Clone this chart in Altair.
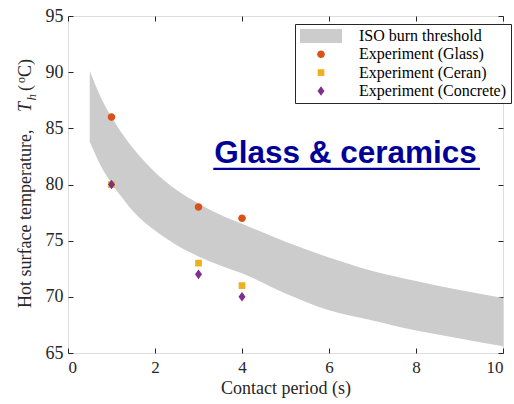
import altair as alt
import pandas as pd

# ---------------- data ----------------
band_t = [0.5, 0.75, 1.0, 1.25, 1.5, 2.0, 2.5, 3.0, 3.5, 4.0, 5.0, 6.0, 7.0, 8.0, 9.0, 10.0]
band_upper = [90.1, 87.8, 86.0, 84.5, 83.2, 81.1, 79.5, 78.3, 77.3, 76.5, 74.9, 73.5, 72.3, 71.4, 70.6, 69.9]
band_lower = [83.8, 81.7, 80.1, 78.8, 77.6, 75.9, 74.6, 73.6, 72.8, 72.1, 70.3, 68.8, 67.9, 67.0, 66.3, 65.6]

glass_t = [1, 3, 4]
glass_T = [86, 78, 77]
ceran_t = [1, 3, 4]
ceran_T = [80, 73, 71]
concrete_t = [1, 3, 4]
concrete_T = [80, 72, 70]

series_names = ["ISO burn threshold", "Experiment (Glass)", "Experiment (Ceran)", "Experiment (Concrete)"]
series_colors = ["#CCCCCC", "#D95319", "#EDB120", "#7E2F8E"]

x_ticks = [0, 2, 4, 6, 8, 10]
y_ticks = [65, 70, 75, 80, 85, 90, 95]

x_title = "Contact period (s)"
y_title_main = "Hot surface temperature,"
annotation = "Glass & ceramics"

# ---------------- layout / style ----------------
W, H = 435, 337
TICK = 5
AX = "#262626"
SERIF = "Liberation Serif"
SYM = 196  # common symbol size (custom paths scaled by sqrt(SYM)/2 = 7 px per unit)

series_shapes = [
    "M-3,-1H3V1H-3Z",  # wide grey patch for the band
    "M0.54,0A0.54,0.54,0,1,1,-0.54,0A0.54,0.54,0,1,1,0.54,0Z",  # circle
    "M-0.48,-0.48H0.48V0.48H-0.48Z",  # square
    "M-0.5,0L0,-0.68L0.5,0L0,0.68Z",  # diamond
]

band_df = pd.DataFrame({"t": band_t, "upper": band_upper, "lower": band_lower})
pts_df = pd.concat([
    pd.DataFrame({"t": glass_t, "T": glass_T, "series": series_names[1]}),
    pd.DataFrame({"t": ceran_t, "T": ceran_T, "series": series_names[2]}),
    pd.DataFrame({"t": concrete_t, "T": concrete_T, "series": series_names[3]}),
], ignore_index=True)

xs = alt.Scale(domain=[0, 10], nice=False, zero=False)
ys = alt.Scale(domain=[65, 95], nice=False, zero=False)

x_axis = alt.Axis(
    values=x_ticks, grid=True, gridDash=[TICK, H - 2 * TICK, TICK, 3000],
    gridColor=AX, gridOpacity=1, gridWidth=1, ticks=False, tickSize=0, domain=False,
    labelFont=SERIF, labelFontSize=17, labelColor=AX, labelPadding=6,
    title=x_title, titleFont=SERIF, titleFontSize=18, titleFontWeight="normal",
    titleColor=AX, titleBaseline="alphabetic", titleY=40,
)
y_axis = alt.Axis(
    values=y_ticks, grid=True, gridDash=[TICK, W - 2 * TICK, TICK, 3000],
    gridColor=AX, gridOpacity=1, gridWidth=1, ticks=False, tickSize=0, domain=False,
    labelFont=SERIF, labelFontSize=18, labelColor=AX, labelPadding=5, title=None,
)

band = alt.Chart(band_df).mark_area(color="#CCCCCC", opacity=1, interpolate="monotone").encode(
    x=alt.X("t:Q", scale=xs, axis=x_axis),
    y=alt.Y("upper:Q", scale=ys, axis=y_axis),
    y2="lower:Q",
)

leg = alt.Legend(
    title=None, orient="none", legendX=227, legendY=8, fillColor="white",
    strokeColor=AX, padding=4, labelFont=SERIF, labelFontSize=16, labelColor="black",
    symbolSize=SYM, symbolOffset=14, labelOffset=30, rowPadding=2.3,
    symbolStrokeWidth=0, symbolOpacity=1,
)

points = alt.Chart(pts_df).mark_point(filled=True, opacity=1, strokeWidth=0, size=SYM).encode(
    x=alt.X("t:Q", scale=xs),
    y=alt.Y("T:Q", scale=ys),
    color=alt.Color("series:N", scale=alt.Scale(domain=series_names, range=series_colors), legend=leg),
    shape=alt.Shape("series:N", scale=alt.Scale(domain=series_names, range=series_shapes), legend=leg),
)

ann_df = pd.DataFrame({"t": [6.38], "T": [81.88], "label": [annotation]})
ann = alt.Chart(ann_df).mark_text(
    font="Liberation Sans", fontWeight="bold", fontSize=31.5, color="#000099",
    align="center", baseline="alphabetic",
).encode(x=alt.X("t:Q", scale=xs), y=alt.Y("T:Q", scale=ys), text="label:N")

ul_df = pd.DataFrame({"t1": [3.34], "t2": [9.47], "T": [81.39]})
underline = alt.Chart(ul_df).mark_rule(color="#000099", strokeWidth=2.2).encode(
    x=alt.X("t1:Q", scale=xs), x2="t2:Q", y=alt.Y("T:Q", scale=ys)
)


def ytext(txt, x, y, size=18, style="normal"):
    return alt.Chart(pd.DataFrame({"s": [txt]})).mark_text(
        font=SERIF, fontSize=size, fontStyle=style, color=AX, angle=270,
        align="left", baseline="alphabetic",
    ).encode(x=alt.value(x), y=alt.value(y), text="s:N")


ox, oy = 68, 16
ytitle = [
    ytext(y_title_main, 31 - ox, 308 - oy),
    ytext("T", 31 - ox, 112 - oy, style="italic"),
    ytext("h", 36 - ox, 100.5 - oy, size=13, style="italic"),
    ytext("(", 31 - ox, 91 - oy),
    ytext("o", 25 - ox, 83 - oy, size=12),
    ytext("C)", 31 - ox, 77 - oy),
]

chart = alt.layer(band, points, underline, ann, *ytitle).properties(
    width=W, height=H,
    autosize=alt.AutoSizeParams(type="none"),
    padding={"left": 68, "top": 16, "right": 11, "bottom": 51},
).configure_view(stroke=AX, strokeWidth=1).configure(background="white")

chart.save("out.html", embed_options={"renderer": "svg", "actions": False})
